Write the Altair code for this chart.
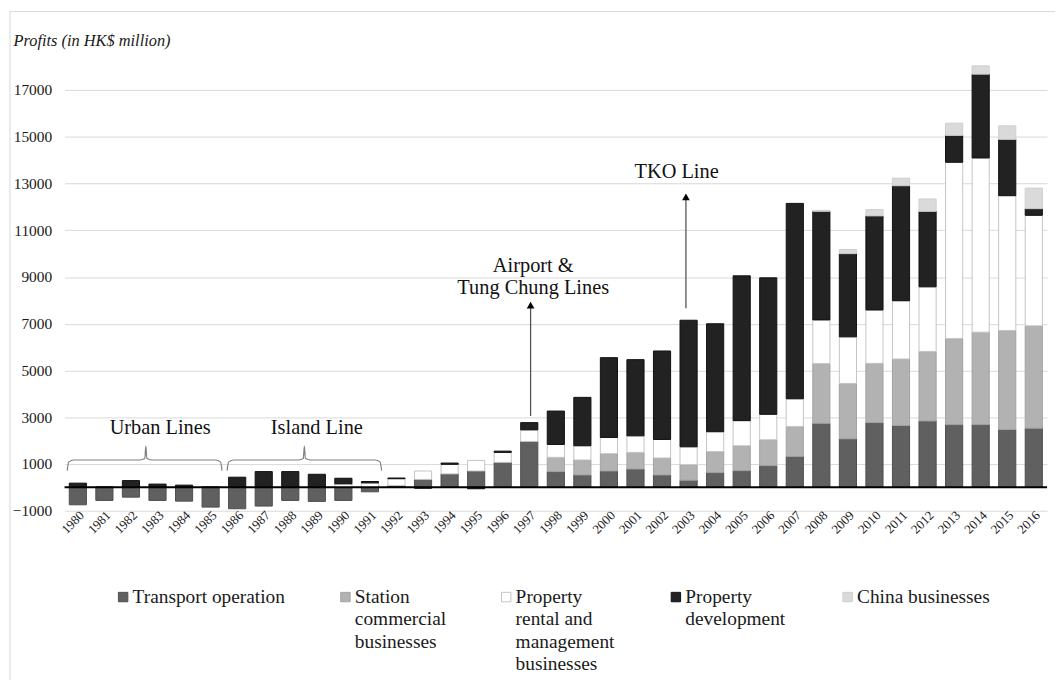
import altair as alt
import pandas as pd

FONT = "Liberation Serif"

years = list(range(1980, 2017))
series = [
    "Transport operation",
    "Station commercial businesses",
    "Property rental and management businesses",
    "Property development",
    "China businesses",
]

transport = [-745, -560, -420, -560, -590, -845, -915, -800, -560, -600, -560, -190,
             80, 340, 575, 700, 1070, 1965, 675, 530, 700, 785, 530, 305, 630, 715,
             930, 1325, 2740, 2075, 2770, 2645, 2840, 2685, 2685, 2475, 2530]
station = [0, 0, 0, 0, 0, 0, 0, 0, 0, 0, 0, 0,
           0, 0, 0, 0, 0, 0, 610, 640, 740, 710, 725, 665, 900, 1065,
           1105, 1275, 2555, 2370, 2535, 2845, 2975, 3685, 3955, 4235, 4380]
rental = [0, 0, 0, 0, 0, 0, 0, 0, 0, 0, 150, 190,
          290, 360, 410, 455, 425, 495, 550, 610, 695, 710, 795, 765, 850, 1075,
          1090, 1190, 1870, 1995, 2285, 2495, 2765, 7540, 7455, 5770, 4730]
development = [180, 20, 290, 140, 95, 15, 435, 675, 675, 560, 240, 60,
               30, -40, 55, -60, 55, 310, 1430, 2070, 3415, 3260, 3785, 5415, 4620, 6195,
               5840, 8360, 4645, 3560, 4025, 4920, 3230, 1150, 3585, 2410, 285]
china = [0, 0, 0, 0, 0, 0, 0, 0, 0, 0, 0, 0,
         0, 0, 0, 0, 0, 0, 0, 0, 0, 0, 0, 0, 0, 0,
         0, 0, 40, 180, 270, 325, 530, 520, 355, 580, 880]

fills = ["#606060", "#b2b2b2", "#ffffff", "#222222", "#dadada"]
strokes = ["#4e4e4e", "#a2a2a2", "#c4c4c4", "#111111", "#cfcfcf"]

y_ticks = list(range(-1000, 18000, 2000))

# legend (drawn as its own layer so that wrapped labels align on their first line)
legend_labels = ["Transport operation", "Station\ncommercial\nbusinesses",
                 "Property\nrental and\nmanagement\nbusinesses", "Property\ndevelopment",
                 "China businesses"]
legend_slot = [59, 283, 445, 616, 789]

# annotations
ann_text = ["Urban Lines", "Island Line", "Airport &", "Tung Chung Lines", "TKO Line"]
ann_x = [1983.1, 1989.0, 1997.15, 1997.15, 2002.55]
ann_y = [2530, 2530, 9490, 8525, 13500]

arrow_x = [1997.05, 2002.9]
arrow_from = [3050, 7660]
arrow_to = [7800, 12430]

brace_start = [1979.6, 1985.62]
brace_mid = [1982.56, 1988.53]
brace_end = [1985.43, 1991.44]
brace_level = 1170
brace_foot = 715
brace_peak = 1765

rows = []
all_vals = [transport, station, rental, development, china]
for i, yr in enumerate(years):
    for k, name in enumerate(series):
        v = all_vals[k][i]
        if v != 0:
            rows.append({"year": str(yr), "series": name, "value": v, "order": k})
df = pd.DataFrame(rows)

brace_rows = []
for b in range(len(brace_start)):
    s, m, e = brace_start[b], brace_mid[b], brace_end[b]
    pts = [(s, brace_foot), (s + 0.06, brace_level - 80), (s + 0.25, brace_level),
           (m - 0.22, brace_level), (m - 0.04, brace_level + 60), (m, brace_peak),
           (m + 0.04, brace_level + 60), (m + 0.22, brace_level),
           (e - 0.25, brace_level), (e - 0.06, brace_level - 80), (e, brace_foot)]
    for j, (px, py) in enumerate(pts):
        brace_rows.append({"b": b, "i": j, "x": px, "y": py})
brace_df = pd.DataFrame(brace_rows)

text_df = pd.DataFrame({"t": ann_text, "x": ann_x, "y": ann_y})
arrow_df = pd.DataFrame({"x": arrow_x, "y1": arrow_from, "y2": arrow_to})
legend_df = pd.DataFrame({"series": series, "label": legend_labels, "slot": legend_slot})

yscale = alt.Scale(domain=[-1000, 19000], nice=False, zero=False)
xq = alt.Scale(domain=[1979.5, 2016.5], nice=False, zero=False)
fill_scale = alt.Scale(domain=series, range=fills)
stroke_scale = alt.Scale(domain=series, range=strokes)
slot_scale = alt.Scale(domain=[0, 990], nice=False, zero=False)

y_axis = alt.Axis(values=y_ticks, format="d", grid=True, gridColor="#d9d9d9", gridWidth=1,
                  domain=False, ticks=False, labelFont=FONT, labelFontSize=15.5,
                  labelColor="#1a1a1a", labelPadding=13,
                  title="Profits (in HK$ million)", titleFont=FONT,
                  titleFontStyle="italic", titleFontWeight="normal",
                  titleFontSize=16.5, titleColor="#1a1a1a", titleAngle=0,
                  titleAlign="left", titleBaseline="middle", titleX=-52, titleY=-3)

bars = alt.Chart(df).mark_bar(strokeWidth=1).encode(
    x=alt.X("year:O", sort=[str(y) for y in years],
            scale=alt.Scale(paddingInner=0.354, paddingOuter=0.177),
            axis=alt.Axis(title=None, labelAngle=-45, labelFont=FONT, labelFontSize=13,
                          labelColor="#1a1a1a", domain=False, ticks=False, labelPadding=0,
                          offset=-2)),
    y=alt.Y("value:Q", stack="zero", scale=yscale, axis=y_axis),
    fill=alt.Fill("series:N", scale=fill_scale, legend=None),
    stroke=alt.Stroke("series:N", scale=stroke_scale, legend=None),
    order=alt.Order("order:Q", sort="ascending"),
)

zero = alt.Chart(pd.DataFrame({"v": [0]})).mark_rule(color="#000000", strokeWidth=2).encode(
    y=alt.Y("v:Q", scale=yscale)
)

braces = alt.Chart(brace_df).mark_line(color="#7f7f7f", strokeWidth=1.2, interpolate="monotone").encode(
    x=alt.X("x:Q", scale=xq, axis=None),
    y=alt.Y("y:Q", scale=yscale),
    detail="b:N",
    order="i:Q",
)

texts = alt.Chart(text_df).mark_text(font=FONT, fontSize=20.5, color="#111111").encode(
    x=alt.X("x:Q", scale=xq, axis=None),
    y=alt.Y("y:Q", scale=yscale),
    text="t:N",
)

arrow_lines = alt.Chart(arrow_df).mark_rule(color="#555555", strokeWidth=1.3).encode(
    x=alt.X("x:Q", scale=xq, axis=None),
    y=alt.Y("y1:Q", scale=yscale),
    y2="y2:Q",
)

arrow_heads = alt.Chart(arrow_df).mark_point(shape="triangle-up", filled=True, size=60,
                                             color="#000000", opacity=1).encode(
    x=alt.X("x:Q", scale=xq, axis=None),
    y=alt.Y("y2:Q", scale=yscale),
)

legend_symbols = alt.Chart(legend_df).mark_square(size=90, strokeWidth=1, opacity=1).encode(
    x=alt.X("slot:Q", scale=slot_scale, axis=None),
    y=alt.value(558),
    fill=alt.Fill("series:N", scale=fill_scale, legend=None),
    stroke=alt.Stroke("series:N", scale=stroke_scale, legend=None),
)

legend_texts = alt.Chart(legend_df).mark_text(
    font=FONT, fontSize=19.5, color="#1a1a1a", align="left", baseline="top",
    lineBreak="\n", lineHeight=22.5, dx=9.5,
).encode(
    x=alt.X("slot:Q", scale=slot_scale, axis=None),
    y=alt.value(549),
    text="label:N",
)

frame = alt.Chart(pd.DataFrame({"a": [0]})).mark_rect(fill=None, stroke="#d9d9d9", strokeWidth=1).encode(
    x=alt.value(-55), x2=alt.value(1010), y=alt.value(-32), y2=alt.value(700)
)

chart = alt.layer(frame, bars, zero, braces, texts, arrow_lines, arrow_heads,
                  legend_symbols, legend_texts).resolve_scale(
    x="independent"
).properties(
    width=990, height=471,
    autosize=alt.AutoSizeParams(type="none"),
    padding={"left": 57, "top": 33, "right": 8, "bottom": 168},
).configure(
    background="white",
).configure_axis(
    labelFont=FONT, titleFont=FONT
).configure_view(stroke=None)

chart.save("out.html", embed_options={"renderer": "svg", "actions": False})
